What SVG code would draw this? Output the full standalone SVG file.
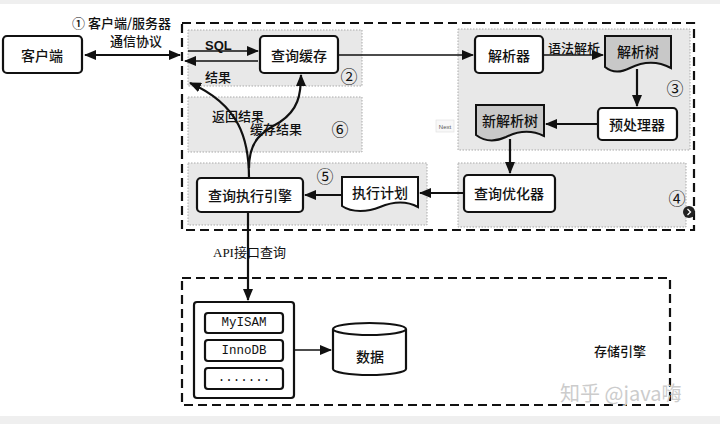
<svg xmlns="http://www.w3.org/2000/svg" width="720" height="424" viewBox="0 0 720 424">
<defs>
<style>
.box{fill:#fff;stroke:#111;stroke-width:2.2}
.reg{fill:#e8e8e8;stroke:#aaa;stroke-width:1;stroke-dasharray:1.5 1.5}
.dash{fill:none;stroke:#111;stroke-width:2.2;stroke-dasharray:9 5}
.doc{fill:#c8c8c8;stroke:#111;stroke-width:2}
.ln{fill:none;stroke:#111;stroke-width:1.6}
.lb{fill:none;stroke:#111;stroke-width:2.2}
.t{font-family:"Noto Sans CJK SC","Noto Sans",sans-serif;font-size:14px;font-weight:500;fill:#111;text-anchor:middle;dominant-baseline:central}
.s{font-family:"Noto Sans CJK SC","Noto Sans",sans-serif;font-size:13px;font-weight:500;fill:#111;dominant-baseline:central}
.n{font-family:"Noto Sans CJK SC","DejaVu Sans",sans-serif;font-size:17px;fill:#111;text-anchor:middle;dominant-baseline:central}
.m{font-family:"Liberation Mono","DejaVu Sans Mono",monospace;font-size:12.5px;fill:#111;text-anchor:middle;dominant-baseline:central}
</style>
<marker id="ah" viewBox="0 0 12 10" refX="11" refY="5" markerWidth="12" markerHeight="10" markerUnits="userSpaceOnUse" orient="auto-start-reverse"><path d="M0,0 L12,5 L0,10 Z" fill="#111"/></marker>
</defs>
<rect x="0" y="0" width="720" height="424" fill="#fff"/>
<rect x="0" y="0" width="720" height="4" fill="#efefef"/>
<rect x="0" y="416" width="720" height="8" fill="#efefef"/>

<g id="server">
<rect class="dash" x="182" y="23" width="512" height="207"/>
<rect class="reg" x="188" y="30" width="174" height="56"/>
<rect class="reg" x="188" y="97" width="174" height="55"/>
<rect class="reg" x="188" y="163" width="239" height="62"/>
<rect class="reg" x="458" y="29" width="232" height="121"/>
<rect class="reg" x="458" y="163" width="228" height="64"/>
<text class="n" x="349" y="75">②</text>
<text class="n" x="675" y="87">③</text>
<text class="n" x="677" y="197">④</text>
<text class="n" x="325" y="175">⑤</text>
<text class="n" x="340" y="128">⑥</text>
<rect x="436" y="120" width="18" height="12" fill="#f8f8f8" stroke="#ddd" stroke-width="0.6"/>
<text x="445" y="126.5" font-family="Liberation Sans,sans-serif" font-size="6" fill="#555" text-anchor="middle" dominant-baseline="central">Next</text>
<circle cx="689" cy="212" r="6" fill="#222"/>
<path d="M687.5,209 L690.5,212 L687.5,215" fill="none" stroke="#fff" stroke-width="1.3"/>
</g>

<g id="client"><rect class="box" x="3" y="36" width="79" height="37" rx="4"/><text class="t" x="42" y="55">客户端</text></g>
<g id="cache"><rect class="box" x="260" y="36" width="78" height="37" rx="4"/><text class="t" x="299" y="55">查询缓存</text></g>
<g id="parser"><rect class="box" x="475" y="36" width="68" height="37" rx="4"/><text class="t" x="509" y="55">解析器</text></g>
<g id="parsetree"><path class="doc" d="M605,36 H671 V68 C656,60 642,62 630,68 C620,73 611,72 605,67 Z"/><text class="t" x="638" y="51">解析树</text></g>
<g id="preproc"><rect class="box" x="598" y="108" width="79" height="32" rx="4"/><text class="t" x="637" y="124">预处理器</text></g>
<g id="newtree"><path class="doc" d="M476,105 H544 V136 C530,129 518,131 506,137 C495,142 484,141 476,135 Z"/><text class="t" x="510" y="120">新解析树</text></g>
<g id="optimizer"><rect class="box" x="464" y="175" width="91" height="37" rx="4"/><text class="t" x="509" y="193">查询优化器</text></g>
<g id="plan"><path class="doc" style="fill:#fff" d="M342,177 H418 V207 C405,200 392,202 380,207 C368,212 352,213 342,206 Z"/><text class="t" x="380" y="192">执行计划</text></g>
<g id="executor"><rect class="box" x="197" y="178" width="106" height="34" rx="4"/><text class="t" x="250" y="195">查询执行引擎</text></g>

<g id="storage">
<rect class="dash" x="182" y="278" width="488" height="127"/>
<rect class="box" x="194" y="302" width="100" height="96" rx="3"/>
<rect class="box" x="205" y="313" width="78" height="20" rx="3"/><text class="m" x="244" y="323">MyISAM</text>
<rect class="box" x="205" y="340" width="78" height="21" rx="3"/><text class="m" x="244" y="350.5">InnoDB</text>
<rect class="box" x="205" y="368" width="78" height="21" rx="3"/><text class="m" x="244" y="378">.......</text>
<text class="t" x="620" y="350" style="font-size:13px">存储引擎</text>
</g>
<g id="data">
<path class="box" d="M333,329 V369 A36.5,6 0 0 0 406,369 V329"/>
<ellipse class="box" cx="369.5" cy="329" rx="36.5" ry="6"/>
<text class="t" x="370" y="356">数据</text>
</g>

<g id="connectors">
<line class="lb" x1="85" y1="55" x2="180" y2="55" marker-start="url(#ah)" marker-end="url(#ah)"/>
<line class="ln" x1="188" y1="51" x2="258" y2="51" marker-end="url(#ah)"/>
<line class="ln" x1="258" y1="61" x2="185" y2="61" marker-end="url(#ah)"/>
<line class="ln" x1="338" y1="55" x2="473" y2="55" marker-end="url(#ah)"/>
<line class="ln" x1="543" y1="55" x2="603" y2="55" marker-end="url(#ah)"/>
<line class="lb" x1="637" y1="69" x2="637" y2="106" marker-end="url(#ah)"/>
<line class="lb" x1="598" y1="124" x2="546" y2="124" marker-end="url(#ah)"/>
<line class="lb" x1="510" y1="139" x2="510" y2="173" marker-end="url(#ah)"/>
<line class="lb" x1="464" y1="193" x2="420" y2="193" marker-end="url(#ah)"/>
<line class="lb" x1="342" y1="195" x2="305" y2="195" marker-end="url(#ah)"/>
<path class="lb" d="M249,178 C249,140 240,105 190,83" marker-end="url(#ah)"/>
<path class="lb" d="M249,168 C249,140 262,132 280,122 C298,110 301,95 301,75" marker-end="url(#ah)"/>
<line class="lb" x1="248" y1="212" x2="248" y2="300" marker-end="url(#ah)"/>
<line class="ln" x1="294" y1="350" x2="331" y2="350" marker-end="url(#ah)"/>
</g>

<g id="labels">
<text class="s" x="72" y="22">① 客户端/服务器</text>
<text class="s" x="110" y="40">通信协议</text>
<text class="s" x="205" y="45" style="font-family:'Liberation Sans',sans-serif;font-weight:bold">SQL</text>
<text class="s" x="205" y="76">结果</text>
<text class="s" x="212" y="115">返回结果</text>
<text class="s" x="250" y="128">缓存结果</text>
<text class="s" x="548" y="47">语法解析</text>
<text x="213" y="252" font-family="Liberation Serif,'Noto Sans CJK SC',serif" font-size="13" fill="#111" dominant-baseline="central">API接口查询</text>
<text x="560" y="392" font-family="'Noto Sans CJK SC',sans-serif" font-size="20" fill="#ccc" dominant-baseline="central">知乎 @java嗨</text>
</g>
</svg>
